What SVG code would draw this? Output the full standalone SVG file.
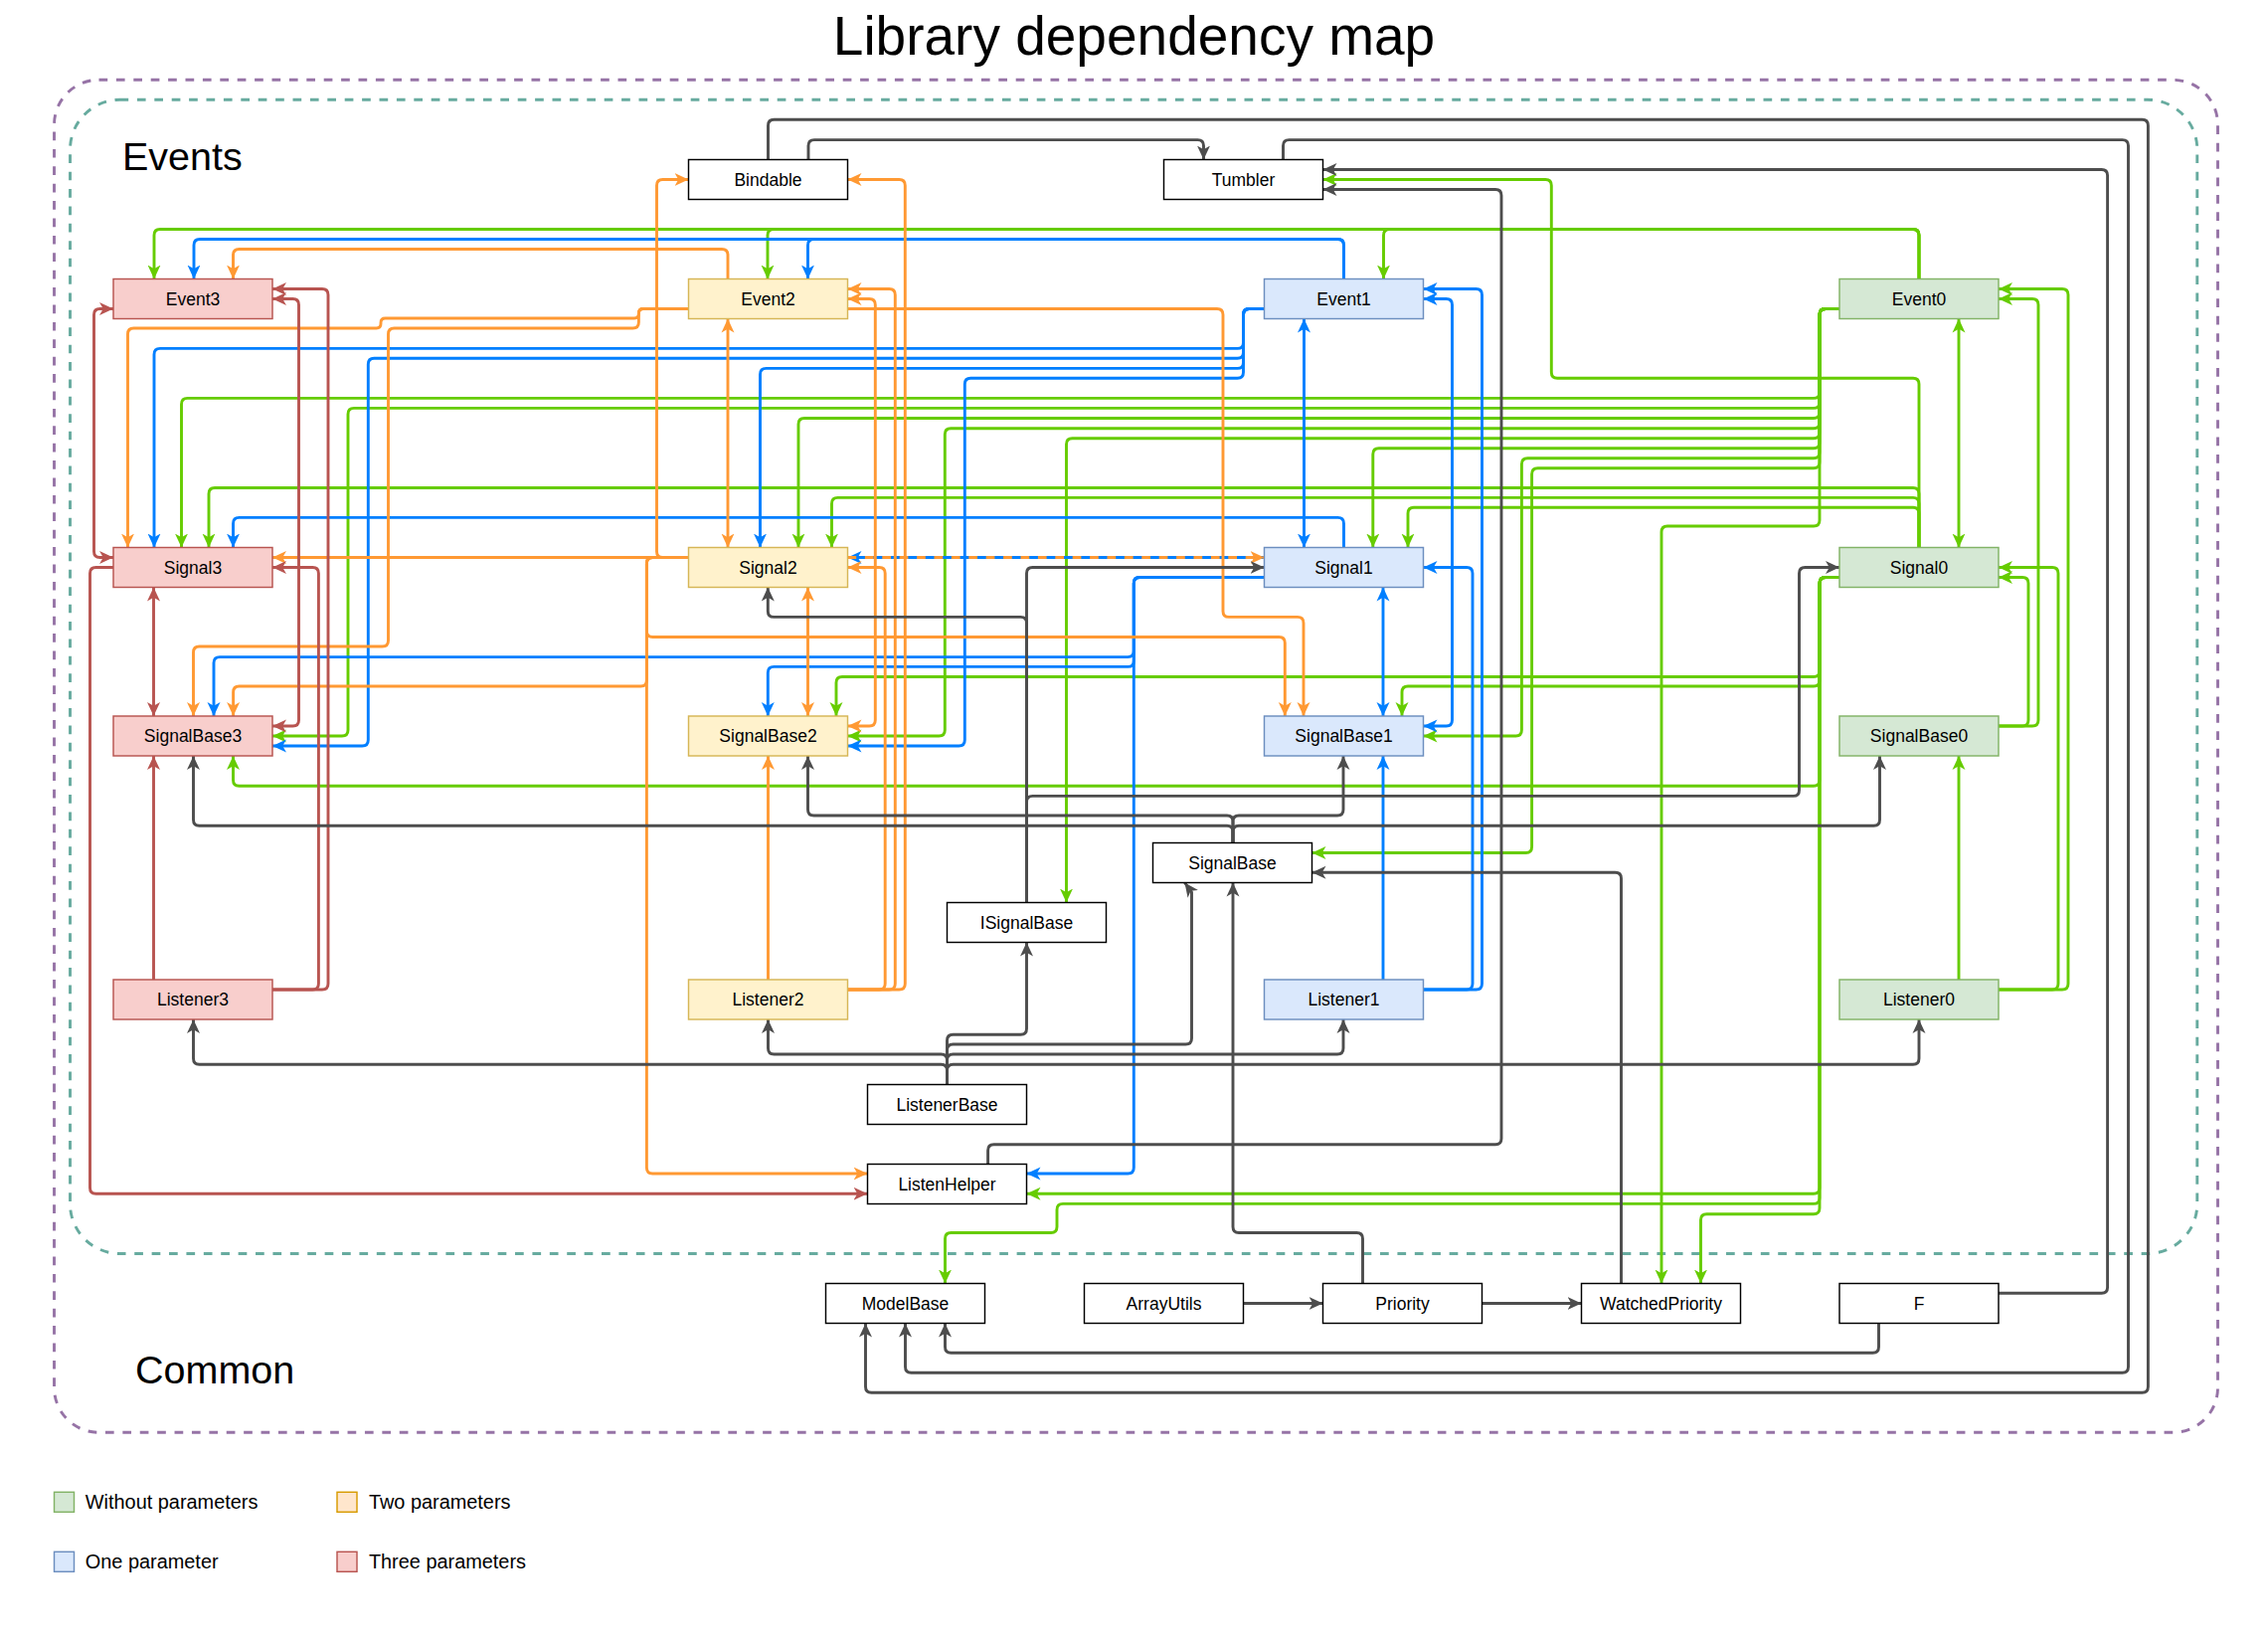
<svg xmlns="http://www.w3.org/2000/svg" width="2281" height="1653" viewBox="0 0 2281 1653">
<style>
.e{fill:none;stroke-width:2.9;stroke-linejoin:round}
.g{stroke:#66CC00;marker-end:url(#ag)}
.b{stroke:#007FFF;marker-end:url(#ab)}
.o{stroke:#FF9933;marker-end:url(#ao)}
.r{stroke:#B85450;marker-end:url(#ar)}
.d{stroke:#4D4D4D;marker-end:url(#ad)}
.g2{marker-start:url(#ag)}
.b2{marker-start:url(#ab)}
.o2{marker-start:url(#ao)}
.r2{marker-start:url(#ar)}
.t{font-family:"Liberation Sans",Arial,Helvetica,sans-serif;font-size:17.5px;text-anchor:middle;fill:#000}
.nw{fill:#ffffff;stroke:#000000;stroke-width:1.45}
.n0{fill:#d5e8d4;stroke:#82b366;stroke-width:1.45}
.n1{fill:#dae8fc;stroke:#6c8ebf;stroke-width:1.45}
.n2{fill:#fff2cc;stroke:#d6b656;stroke-width:1.45}
.n3{fill:#f8cecc;stroke:#b85450;stroke-width:1.45}
.big{font-family:"Liberation Sans",Arial,Helvetica,sans-serif;fill:#000}
.lg{font-family:"Liberation Sans",Arial,Helvetica,sans-serif;font-size:19.9px;fill:#000}
</style>
<defs>
<marker id="ag" viewBox="0 0 15 14" refX="14" refY="7" markerWidth="15" markerHeight="14" markerUnits="userSpaceOnUse" orient="auto-start-reverse"><path d="M0,0.5 L14,7 L0,13.5 L3.8,7 Z" fill="#66CC00"/></marker>
<marker id="ab" viewBox="0 0 15 14" refX="14" refY="7" markerWidth="15" markerHeight="14" markerUnits="userSpaceOnUse" orient="auto-start-reverse"><path d="M0,0.5 L14,7 L0,13.5 L3.8,7 Z" fill="#007FFF"/></marker>
<marker id="ao" viewBox="0 0 15 14" refX="14" refY="7" markerWidth="15" markerHeight="14" markerUnits="userSpaceOnUse" orient="auto-start-reverse"><path d="M0,0.5 L14,7 L0,13.5 L3.8,7 Z" fill="#FF9933"/></marker>
<marker id="ar" viewBox="0 0 15 14" refX="14" refY="7" markerWidth="15" markerHeight="14" markerUnits="userSpaceOnUse" orient="auto-start-reverse"><path d="M0,0.5 L14,7 L0,13.5 L3.8,7 Z" fill="#B85450"/></marker>
<marker id="ad" viewBox="0 0 15 14" refX="14" refY="7" markerWidth="15" markerHeight="14" markerUnits="userSpaceOnUse" orient="auto-start-reverse"><path d="M0,0.5 L14,7 L0,13.5 L3.8,7 Z" fill="#4D4D4D"/></marker>
</defs>
<rect width="2281" height="1653" fill="#ffffff"/>
<text class="big" x="1140.5" y="55" font-size="55" text-anchor="middle">Library dependency map</text>
<g id="group-common">
<rect x="54.5" y="80.3" width="2176" height="1360" rx="45" ry="45" fill="none" stroke="#9673a6" stroke-width="2.9" stroke-dasharray="8.7 8.7"/>
<text class="big" x="136" y="1390.5" font-size="39.5">Common</text>
</g>
<g id="group-events">
<rect x="70.5" y="100.3" width="2139.3" height="1160.2" rx="50" ry="50" fill="none" stroke="#67ab9f" stroke-width="2.9" stroke-dasharray="8.7 8.7"/>
<text class="big" x="123" y="171" font-size="39.5">Events</text>
</g>
<g id="connectors">
<path class="e g" d="M1930,280.5 V236.5 Q1930,230.5 1924,230.5 H161 Q155,230.5 155,236.5 V280.5"/>
<path class="e g" d="M1930,280.5 V236.5 Q1930,230.5 1924,230.5 H778 Q772,230.5 772,236.5 V280.5"/>
<path class="e g" d="M1930,280.5 V236.5 Q1930,230.5 1924,230.5 H1397.5 Q1391.5,230.5 1391.5,236.5 V280.5"/>
<path class="e g g2" d="M1970,320.5 V550.5"/>
<path class="e g" d="M1850,310.5 H1836 Q1830,310.5 1830,316.5 V394.4 Q1830,400.4 1824,400.4 H188.5 Q182.5,400.4 182.5,406.4 V550.5"/>
<path class="e g" d="M1850,310.5 H1836 Q1830,310.5 1830,316.5 V404.4 Q1830,410.4 1824,410.4 H356 Q350,410.4 350,416.4 V734 Q350,740 344,740 H274"/>
<path class="e g" d="M1850,310.5 H1836 Q1830,310.5 1830,316.5 V414.5 Q1830,420.5 1824,420.5 H809 Q803,420.5 803,426.5 V550.5"/>
<path class="e g" d="M1850,310.5 H1836 Q1830,310.5 1830,316.5 V424.7 Q1830,430.7 1824,430.7 H956.3 Q950.3,430.7 950.3,436.7 V734 Q950.3,740 944.3,740 H852.5"/>
<path class="e g" d="M1850,310.5 H1836 Q1830,310.5 1830,316.5 V434.7 Q1830,440.7 1824,440.7 H1078.5 Q1072.5,440.7 1072.5,446.7 V907.5"/>
<path class="e g" d="M1850,310.5 H1836 Q1830,310.5 1830,316.5 V444.8 Q1830,450.8 1824,450.8 H1386.8 Q1380.8,450.8 1380.8,456.8 V550.5"/>
<path class="e g" d="M1850,310.5 H1836 Q1830,310.5 1830,316.5 V454.8 Q1830,460.8 1824,460.8 H1536.4 Q1530.4,460.8 1530.4,466.8 V734 Q1530.4,740 1524.4,740 H1431.5"/>
<path class="e g" d="M1850,310.5 H1836 Q1830,310.5 1830,316.5 V464.8 Q1830,470.8 1824,470.8 H1546.6 Q1540.6,470.8 1540.6,476.8 V851.5 Q1540.6,857.5 1534.6,857.5 H1319.5"/>
<path class="e g" d="M1850,310.5 H1836 Q1830,310.5 1830,316.5 V523 Q1830,529 1824,529 H1677 Q1671,529 1671,535 V1290.5"/>
<path class="e g" d="M1930,550.5 V386.3 Q1930,380.3 1924,380.3 H1566.3 Q1560.3,380.3 1560.3,374.3 V186.5 Q1560.3,180.5 1554.3,180.5 H1330.5"/>
<path class="e g" d="M1930,550.5 V496.5 Q1930,490.5 1924,490.5 H216 Q210,490.5 210,496.5 V550.5"/>
<path class="e g" d="M1930,550.5 V506.4 Q1930,500.4 1924,500.4 H842.5 Q836.5,500.4 836.5,506.4 V550.5"/>
<path class="e g" d="M1930,550.5 V516.3 Q1930,510.3 1924,510.3 H1422 Q1416,510.3 1416,516.3 V550.5"/>
<path class="e g" d="M1850,580.5 H1836 Q1830,580.5 1830,586.5 V674.5 Q1830,680.5 1824,680.5 H847 Q841,680.5 841,686.5 V720"/>
<path class="e g" d="M1850,580.5 H1836 Q1830,580.5 1830,586.5 V684 Q1830,690 1824,690 H1416 Q1410,690 1410,696 V720"/>
<path class="e g" d="M1850,580.5 H1836 Q1830,580.5 1830,586.5 V784.3 Q1830,790.3 1824,790.3 H240.5 Q234.5,790.3 234.5,784.3 V760"/>
<path class="e g" d="M1850,580.5 H1836 Q1830,580.5 1830,586.5 V1194.2 Q1830,1200.2 1824,1200.2 H1032.5"/>
<path class="e g" d="M1850,580.5 H1836 Q1830,580.5 1830,586.5 V1204.4 Q1830,1210.4 1824,1210.4 H1069 Q1063,1210.4 1063,1216.4 V1233.5 Q1063,1239.5 1057,1239.5 H956.5 Q950.5,1239.5 950.5,1245.5 V1290.5"/>
<path class="e g" d="M1850,580.5 H1836 Q1830,580.5 1830,586.5 V1214.7 Q1830,1220.7 1824,1220.7 H1716.5 Q1710.5,1220.7 1710.5,1226.7 V1290.5"/>
<path class="e g" d="M2010,730 H2034 Q2040,730 2040,724 V586.5 Q2040,580.5 2034,580.5 H2010"/>
<path class="e g" d="M2010,730 H2044 Q2050,730 2050,724 V306.5 Q2050,300.5 2044,300.5 H2010"/>
<path class="e g" d="M2010,995 H2064 Q2070,995 2070,989 V576.5 Q2070,570.5 2064,570.5 H2010"/>
<path class="e g" d="M2010,995 H2074 Q2080,995 2080,989 V296.5 Q2080,290.5 2074,290.5 H2010"/>
<path class="e g" d="M1970,985 V760"/>

<path class="e b" d="M1351.5,280.5 V246.5 Q1351.5,240.5 1345.5,240.5 H201 Q195,240.5 195,246.5 V280.5"/>
<path class="e b" d="M1351.5,280.5 V246.5 Q1351.5,240.5 1345.5,240.5 H818.5 Q812.5,240.5 812.5,246.5 V280.5"/>
<path class="e b b2" d="M1311.5,320.5 V550.5"/>
<path class="e b" d="M1271.5,310.5 H1256.5 Q1250.5,310.5 1250.5,316.5 V344.4 Q1250.5,350.4 1244.5,350.4 H161 Q155,350.4 155,356.4 V550.5"/>
<path class="e b" d="M1271.5,310.5 H1256.5 Q1250.5,310.5 1250.5,316.5 V354.2 Q1250.5,360.2 1244.5,360.2 H376.3 Q370.3,360.2 370.3,366.2 V744 Q370.3,750 364.3,750 H274"/>
<path class="e b" d="M1271.5,310.5 H1256.5 Q1250.5,310.5 1250.5,316.5 V364.4 Q1250.5,370.4 1244.5,370.4 H770.5 Q764.5,370.4 764.5,376.4 V550.5"/>
<path class="e b" d="M1271.5,310.5 H1256.5 Q1250.5,310.5 1250.5,316.5 V374.3 Q1250.5,380.3 1244.5,380.3 H976.3 Q970.3,380.3 970.3,386.3 V744 Q970.3,750 964.3,750 H852.5"/>
<path class="e b" d="M1351.5,550.5 V526.4 Q1351.5,520.4 1345.5,520.4 H240.5 Q234.5,520.4 234.5,526.4 V550.5"/>
<path class="e b" d="M1271.5,560.5 H852.5"/>
<path class="e b" d="M1271.5,580.5 H1146.3 Q1140.3,580.5 1140.3,586.5 V654.6 Q1140.3,660.6 1134.3,660.6 H221 Q215,660.6 215,666.6 V720"/>
<path class="e b" d="M1271.5,580.5 H1146.3 Q1140.3,580.5 1140.3,586.5 V664.4 Q1140.3,670.4 1134.3,670.4 H778.3 Q772.3,670.4 772.3,676.4 V720"/>
<path class="e b" d="M1271.5,580.5 H1146.3 Q1140.3,580.5 1140.3,586.5 V1174 Q1140.3,1180 1134.3,1180 H1032.5"/>
<path class="e b b2" d="M1391,590.5 V720"/>
<path class="e b b2" d="M1431.5,300.5 H1454.5 Q1460.5,300.5 1460.5,306.5 V724 Q1460.5,730 1454.5,730 H1431.5"/>
<path class="e b" d="M1431.5,995 H1484.5 Q1490.5,995 1490.5,989 V296.5 Q1490.5,290.5 1484.5,290.5 H1431.5"/>
<path class="e b" d="M1431.5,995 H1475 Q1481,995 1481,989 V576.5 Q1481,570.5 1475,570.5 H1431.5"/>
<path class="e b" d="M1391,985 V760"/>

<path class="e o" d="M732,280.5 V256.5 Q732,250.5 726,250.5 H240.5 Q234.5,250.5 234.5,256.5 V280.5"/>
<path class="e o o2" d="M732,320.5 V550.5"/>
<path class="e o" d="M692.5,310.5 H646.9 Q642.4,310.5 642.4,315 V315.5 Q642.4,320 637.9,320 H387.5 Q383,320 383,324.5 V325.5 Q383,330 378.5,330 H134.5 Q128.5,330 128.5,336 V550.5"/>
<path class="e o" d="M692.5,310.5 H646.9 Q642.4,310.5 642.4,315 V324 Q642.4,330 636.4,330 H396.5 Q390.5,330 390.5,336 V644 Q390.5,650 384.5,650 H200.5 Q194.5,650 194.5,656 V720"/>
<path class="e o o2" d="M852.5,300.5 H874.3 Q880.3,300.5 880.3,306.5 V724 Q880.3,730 874.3,730 H852.5"/>
<path class="e o" d="M852.5,310.5 H1224 Q1230,310.5 1230,316.5 V614.4 Q1230,620.4 1236,620.4 H1305 Q1311,620.4 1311,626.4 V720"/>
<path class="e o" d="M852.5,995 H894.3 Q900.3,995 900.3,989 V296.5 Q900.3,290.5 894.3,290.5 H852.5"/>
<path class="e o" d="M852.5,995 H884.2 Q890.2,995 890.2,989 V576.5 Q890.2,570.5 884.2,570.5 H852.5"/>
<path class="e o" d="M852.5,995 H904.3 Q910.3,995 910.3,989 V186.5 Q910.3,180.5 904.3,180.5 H852.5"/>
<path class="e o" d="M772.5,985 V760"/>
<path class="e o o2" d="M812.5,590.5 V720"/>
<path class="e o" d="M692.5,560.5 H274"/>
<path class="e o" d="M692.5,560.5 H666.5 Q660.5,560.5 660.5,554.5 V186.5 Q660.5,180.5 666.5,180.5 H692.5"/>
<path class="e o" d="M692.5,560.5 H656.4 Q650.4,560.5 650.4,566.5 V634.5 Q650.4,640.5 656.4,640.5 H1286.3 Q1292.3,640.5 1292.3,646.5 V720"/>
<path class="e o" d="M692.5,560.5 H656.4 Q650.4,560.5 650.4,566.5 V684 Q650.4,690 644.4,690 H240.6 Q234.6,690 234.6,696 V720"/>
<path class="e o" d="M692.5,560.5 H656.4 Q650.4,560.5 650.4,566.5 V1174 Q650.4,1180 656.4,1180 H872.5"/>
<path class="e o" d="M852.5,560.5 H1271.5" stroke-dasharray="8.7 8.7"/>

<path class="e r r2" d="M114,310.5 H100.5 Q94.5,310.5 94.5,316.5 V554.5 Q94.5,560.5 100.5,560.5 H114"/>
<path class="e r" d="M114,570.5 H96.5 Q90.5,570.5 90.5,576.5 V1194.2 Q90.5,1200.2 96.5,1200.2 H872.5"/>
<path class="e r r2" d="M154.5,590.5 V720"/>
<path class="e r" d="M154.5,985 V760"/>
<path class="e r r2" d="M274,300.5 H294.5 Q300.5,300.5 300.5,306.5 V724 Q300.5,730 294.5,730 H274"/>
<path class="e r" d="M274,995 H324 Q330,995 330,989 V296.5 Q330,290.5 324,290.5 H274"/>
<path class="e r" d="M274,995 H314.4 Q320.4,995 320.4,989 V576.5 Q320.4,570.5 314.4,570.5 H274"/>

<path class="e d" d="M772.5,160.5 V126.2 Q772.5,120.2 778.5,120.2 H2154.4 Q2160.4,120.2 2160.4,126.2 V1394.3 Q2160.4,1400.3 2154.4,1400.3 H876.5 Q870.5,1400.3 870.5,1394.3 V1330.5"/>
<path class="e d" d="M813,160.5 V146.6 Q813,140.6 819,140.6 H1204.5 Q1210.5,140.6 1210.5,146.6 V160.5"/>
<path class="e d" d="M1290.5,160.5 V146.6 Q1290.5,140.6 1296.5,140.6 H2134.5 Q2140.5,140.6 2140.5,146.6 V1374.3 Q2140.5,1380.3 2134.5,1380.3 H916.5 Q910.5,1380.3 910.5,1374.3 V1330.5"/>
<path class="e d" d="M2010,1300.3 H2113.6 Q2119.6,1300.3 2119.6,1294.3 V176.5 Q2119.6,170.5 2113.6,170.5 H1330.5"/>
<path class="e d" d="M1889.5,1330.5 V1354.3 Q1889.5,1360.3 1883.5,1360.3 H956.5 Q950.5,1360.3 950.5,1354.3 V1330.5"/>
<path class="e d" d="M993.6,1170.5 V1156.8 Q993.6,1150.8 999.6,1150.8 H1504 Q1510,1150.8 1510,1144.8 V196.5 Q1510,190.5 1504,190.5 H1330.5"/>
<path class="e d" d="M1032.5,907.5 V576.5 Q1032.5,570.5 1038.5,570.5 H1271.5"/>
<path class="e d" d="M1032.5,907.5 V626.4 Q1032.5,620.4 1026.5,620.4 H778.3 Q772.3,620.4 772.3,614.4 V590.5"/>
<path class="e d" d="M1032.5,907.5 V806.4 Q1032.5,800.4 1038.5,800.4 H1803.5 Q1809.5,800.4 1809.5,794.4 V576.5 Q1809.5,570.5 1815.5,570.5 H1850"/>
<path class="e d" d="M1240,847.5 V836.3 Q1240,830.3 1234,830.3 H200.5 Q194.5,830.3 194.5,824.3 V760"/>
<path class="e d" d="M1240,847.5 V826 Q1240,820 1234,820 H818.5 Q812.5,820 812.5,814 V760"/>
<path class="e d" d="M1240,847.5 V826 Q1240,820 1246,820 H1345 Q1351,820 1351,814 V760"/>
<path class="e d" d="M1240,847.5 V836.3 Q1240,830.3 1246,830.3 H1884.5 Q1890.5,830.3 1890.5,824.3 V760"/>
<path class="e d" d="M1630.5,1290.5 V883.3 Q1630.5,877.3 1624.5,877.3 H1319.5"/>
<path class="e d" d="M1370.5,1290.5 V1245.5 Q1370.5,1239.5 1364.5,1239.5 H1246 Q1240,1239.5 1240,1233.5 V887.5"/>
<path class="e d" d="M1250.5,1310.5 H1330.5"/>
<path class="e d" d="M1490.5,1310.5 H1590.5"/>
<path class="e d" d="M952.5,1090.5 V1046.2 Q952.5,1040.2 958.5,1040.2 H1026.5 Q1032.5,1040.2 1032.5,1034.2 V947.5"/>
<path class="e d" d="M952.5,1090.5 V1056 Q952.5,1050 958.5,1050 H1192.5 Q1198.5,1050 1198.5,1044 V897 L1191.5,887.5"/>
<path class="e d" d="M952.5,1090.5 V1066 Q952.5,1060 946.5,1060 H778.5 Q772.5,1060 772.5,1054 V1025"/>
<path class="e d" d="M952.5,1090.5 V1066 Q952.5,1060 958.5,1060 H1345 Q1351,1060 1351,1054 V1025"/>
<path class="e d" d="M952.5,1090.5 V1076.3 Q952.5,1070.3 946.5,1070.3 H200.5 Q194.5,1070.3 194.5,1064.3 V1025"/>
<path class="e d" d="M952.5,1090.5 V1076.3 Q952.5,1070.3 958.5,1070.3 H1924 Q1930,1070.3 1930,1064.3 V1025"/>
</g>
<g id="Bindable"><rect class="nw" x="692.5" y="160.5" width="160" height="40"/><text class="t" x="772.5" y="186.7">Bindable</text></g>
<g id="Tumbler"><rect class="nw" x="1170.5" y="160.5" width="160" height="40"/><text class="t" x="1250.5" y="186.7">Tumbler</text></g>
<g id="Event3"><rect class="n3" x="114" y="280.5" width="160" height="40"/><text class="t" x="194" y="306.7">Event3</text></g>
<g id="Event2"><rect class="n2" x="692.5" y="280.5" width="160" height="40"/><text class="t" x="772.5" y="306.7">Event2</text></g>
<g id="Event1"><rect class="n1" x="1271.5" y="280.5" width="160" height="40"/><text class="t" x="1351.5" y="306.7">Event1</text></g>
<g id="Event0"><rect class="n0" x="1850" y="280.5" width="160" height="40"/><text class="t" x="1930" y="306.7">Event0</text></g>
<g id="Signal3"><rect class="n3" x="114" y="550.5" width="160" height="40"/><text class="t" x="194" y="576.7">Signal3</text></g>
<g id="Signal2"><rect class="n2" x="692.5" y="550.5" width="160" height="40"/><text class="t" x="772.5" y="576.7">Signal2</text></g>
<g id="Signal1"><rect class="n1" x="1271.5" y="550.5" width="160" height="40"/><text class="t" x="1351.5" y="576.7">Signal1</text></g>
<g id="Signal0"><rect class="n0" x="1850" y="550.5" width="160" height="40"/><text class="t" x="1930" y="576.7">Signal0</text></g>
<g id="SignalBase3"><rect class="n3" x="114" y="720" width="160" height="40"/><text class="t" x="194" y="746.2">SignalBase3</text></g>
<g id="SignalBase2"><rect class="n2" x="692.5" y="720" width="160" height="40"/><text class="t" x="772.5" y="746.2">SignalBase2</text></g>
<g id="SignalBase1"><rect class="n1" x="1271.5" y="720" width="160" height="40"/><text class="t" x="1351.5" y="746.2">SignalBase1</text></g>
<g id="SignalBase0"><rect class="n0" x="1850" y="720" width="160" height="40"/><text class="t" x="1930" y="746.2">SignalBase0</text></g>
<g id="SignalBase"><rect class="nw" x="1159.5" y="847.5" width="160" height="40"/><text class="t" x="1239.5" y="873.7">SignalBase</text></g>
<g id="ISignalBase"><rect class="nw" x="952.5" y="907.5" width="160" height="40"/><text class="t" x="1032.5" y="933.7">ISignalBase</text></g>
<g id="Listener3"><rect class="n3" x="114" y="985" width="160" height="40"/><text class="t" x="194" y="1011.2">Listener3</text></g>
<g id="Listener2"><rect class="n2" x="692.5" y="985" width="160" height="40"/><text class="t" x="772.5" y="1011.2">Listener2</text></g>
<g id="Listener1"><rect class="n1" x="1271.5" y="985" width="160" height="40"/><text class="t" x="1351.5" y="1011.2">Listener1</text></g>
<g id="Listener0"><rect class="n0" x="1850" y="985" width="160" height="40"/><text class="t" x="1930" y="1011.2">Listener0</text></g>
<g id="ListenerBase"><rect class="nw" x="872.5" y="1090.5" width="160" height="40"/><text class="t" x="952.5" y="1116.7">ListenerBase</text></g>
<g id="ListenHelper"><rect class="nw" x="872.5" y="1170.5" width="160" height="40"/><text class="t" x="952.5" y="1196.7">ListenHelper</text></g>
<g id="ModelBase"><rect class="nw" x="830.5" y="1290.5" width="160" height="40"/><text class="t" x="910.5" y="1316.7">ModelBase</text></g>
<g id="ArrayUtils"><rect class="nw" x="1090.5" y="1290.5" width="160" height="40"/><text class="t" x="1170.5" y="1316.7">ArrayUtils</text></g>
<g id="Priority"><rect class="nw" x="1330.5" y="1290.5" width="160" height="40"/><text class="t" x="1410.5" y="1316.7">Priority</text></g>
<g id="WatchedPriority"><rect class="nw" x="1590.5" y="1290.5" width="160" height="40"/><text class="t" x="1670.5" y="1316.7">WatchedPriority</text></g>
<g id="F"><rect class="nw" x="1850" y="1290.5" width="160" height="40"/><text class="t" x="1930" y="1316.7">F</text></g>
<g id="legend">
<rect x="54.5" y="1500.3" width="20" height="20" fill="#d5e8d4" stroke="#82b366" stroke-width="1.45"/>
<text class="lg" x="85.8" y="1517.3">Without parameters</text>
<rect x="339" y="1500.3" width="20" height="20" fill="#ffe6cc" stroke="#d79b00" stroke-width="1.45"/>
<text class="lg" x="370.9" y="1517.3">Two parameters</text>
<rect x="54.5" y="1560.3" width="20" height="20" fill="#dae8fc" stroke="#6c8ebf" stroke-width="1.45"/>
<text class="lg" x="85.8" y="1577.3">One parameter</text>
<rect x="339" y="1560.3" width="20" height="20" fill="#f8cecc" stroke="#b85450" stroke-width="1.45"/>
<text class="lg" x="370.9" y="1577.3">Three parameters</text>
</g>
</svg>
